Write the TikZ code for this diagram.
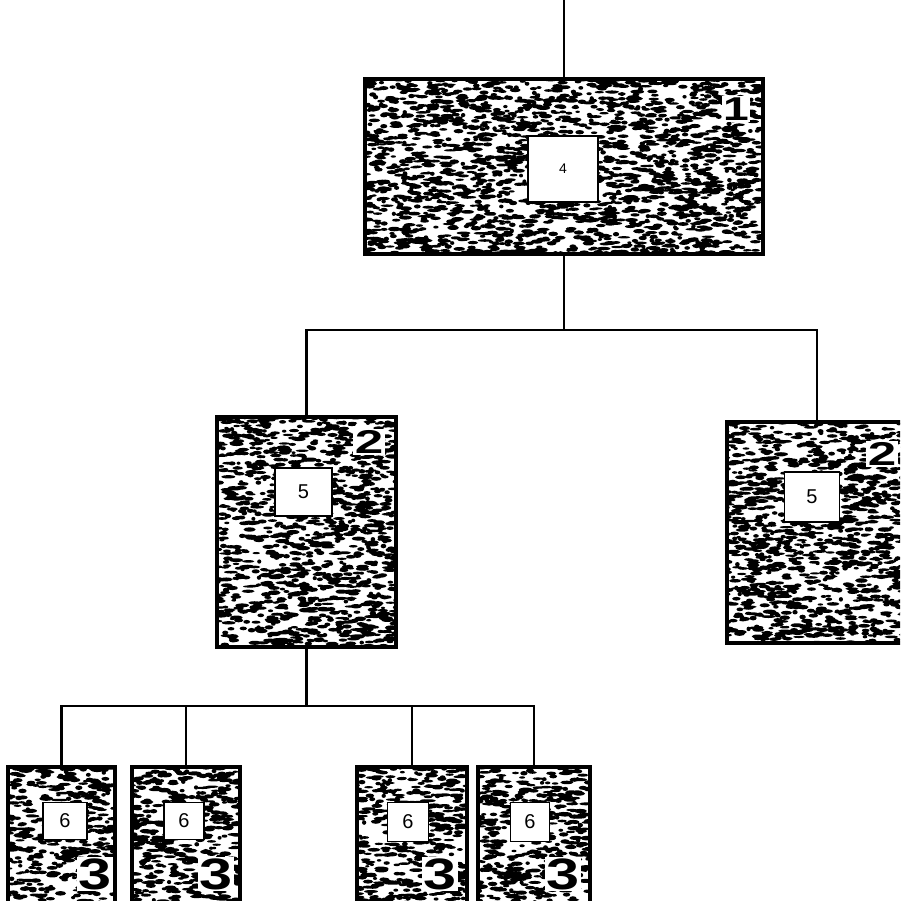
\documentclass[tikz,border=0pt]{standalone}
\usepackage{fontspec}
\usepackage{graphicx}
\setmainfont{Liberation Sans}
\newcommand{\mypanel}[5]{%
  \node[panel, minimum width=#4, minimum height=#5] (#1) at (#2,#3) {};
  \begin{scope}
    \clip (#2+1,#3+1) rectangle (#2+#4-1,#3+#5-1);
    \pgfmathtruncatemacro\nb{#4/34*#5}
    \fill[black] foreach \k in {1,...,\nb} {
      (#2+rnd*#4, #3+rnd*#5) ellipse [x radius={2+5*rnd}, y radius={1.1+1.2*rnd}]
    };
  \end{scope}
  \draw[line width=3.5pt] (#2,#3) rectangle (#2+#4,#3+#5);
}
\newcommand{\widedigit}[2]{\scalebox{#1}[1]{#2}}
\begin{document}
\begin{tikzpicture}[x=1pt,y=-1pt,
  panel/.style={draw=none, fill=white, anchor=north west, inner sep=0pt, outer sep=0pt},
  whitebox/.style={draw=black, line width=1.6pt, fill=white, inner sep=0pt},
  smallnum/.style={font=\fontsize{20}{20}\selectfont},
  bignum/.style={font=\bfseries\fontsize{33}{33}\selectfont, inner sep=1.5pt, fill=white},
  bigthree/.style={font=\bfseries\fontsize{44}{44}\selectfont, inner sep=1.5pt, fill=white},
  link/.style={draw=black, line width=2.2pt}
]
\useasboundingbox (0,0) rectangle (900,901);
\clip (0,0) rectangle (900,901);
\pgfmathsetseed{11}
% panels
\mypanel{p1}{365}{79}{398}{175}
\mypanel{p2a}{217}{417}{179}{230}
\mypanel{p2b}{727}{422}{180}{221}
\mypanel{p3a}{8}{767}{107}{145}
\mypanel{p3b}{132}{767}{108}{145}
\mypanel{p3c}{357}{767}{110}{145}
\mypanel{p3d}{478}{767}{112}{145}
% inner white boxes
\node[whitebox, minimum width=70, minimum height=66, font=\fontsize{14}{14}\selectfont] (w4) at (563,169) {4};
\node[whitebox, minimum width=57, minimum height=48, smallnum] (w5a) at (303.5,492) {5};
\node[whitebox, minimum width=55, minimum height=50, smallnum] (w5b) at (812,497) {5};
\node[whitebox, minimum width=44, minimum height=37, smallnum] (w6a) at (65,821) {6};
\node[whitebox, minimum width=40, minimum height=37, smallnum] (w6b) at (184,821) {6};
\node[whitebox, minimum width=41, minimum height=39, smallnum] (w6c) at (408,822) {6};
\node[whitebox, minimum width=39, minimum height=39, smallnum] (w6d) at (530,822) {6};
% level numbers
\node[bignum] (n1) at (736,109) {\widedigit{1.4}{1}};
\node[bignum] (n2a) at (369,442) {\widedigit{1.55}{2}};
\node[bignum] (n2b) at (882,454) {\widedigit{1.55}{2}};
\node[bigthree] (n3a) at (95,874) {\widedigit{1.35}{3}};
\node[bigthree] (n3b) at (216,874) {\widedigit{1.35}{3}};
\node[bigthree] (n3c) at (440,874) {\widedigit{1.35}{3}};
\node[bigthree] (n3d) at (563,874) {\widedigit{1.35}{3}};
% connectors
\coordinate (topend) at (564,0);
\coordinate (bus1) at (0,330);
\coordinate (bus2) at (0,706);
\draw[link] (topend) -- (topend |- p1.north);
\draw[link] (p1.south) -- (p1.south |- bus1);
\draw[link] (p2a.north) |- (p2b.north |- bus1) -- (p2b.north);
\draw[link] (p2a.south) -- (p2a.south |- bus2);
\draw[link] (p3a.north) |- (p3d.north |- bus2) -- (p3d.north);
\draw[link] (p3b.north) -- (p3b.north |- bus2);
\draw[link] (p3c.north) -- (p3c.north |- bus2);
\end{tikzpicture}
\end{document}
